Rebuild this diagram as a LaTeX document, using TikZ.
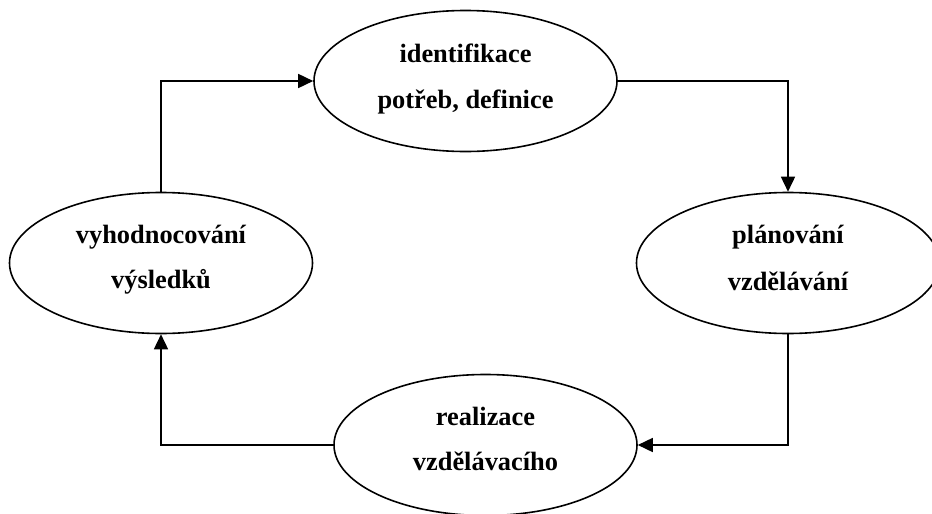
\documentclass[tikz,border=0pt]{standalone}
\usepackage{fontspec}
\setmainfont{Liberation Serif}
\usetikzlibrary{shapes.geometric,arrows.meta}
\tikzset{
  stage/.style={draw, ellipse, line width=1.6pt, inner sep=0pt,
    minimum width=303pt, minimum height=141pt},
  lbl/.style={anchor=base, inner sep=0pt,
    font=\fontsize{26.4}{30}\selectfont\bfseries},
  flow/.style={line width=1.6pt, -{Triangle[length=15pt,width=14pt]}}
}
\begin{document}
\begin{tikzpicture}[x=1pt,y=-1pt]
\useasboundingbox (0,0) rectangle (932,514);
\clip (0,0) rectangle (932,514);
\fill[white] (0,0) rectangle (932,514);

% the four stages of the cycle
\node[stage] (ident) at (465.5,81) {};
\node[lbl] (identA) at (465.5,62) {identifikace};
\node[lbl] (identB) at (465.5,108) {potřeb, definice};

\node[stage] (plan) at (788,263) {};
\node[lbl] (planA) at (788,243) {plánování};
\node[lbl] (planB) at (788,290) {vzdělávání};

\node[stage] (real) at (485.5,445) {};
\node[lbl] (realA) at (485.5,425) {realizace};
\node[lbl] (realB) at (485.5,470) {vzdělávacího};

\node[stage] (eval) at (161,263) {};
\node[lbl] (evalA) at (161,243) {vyhodnocování};
\node[lbl] (evalB) at (161,288) {výsledků};

% connectors around the cycle
\draw[flow] (ident.east) -| (plan.north);
\draw[flow] (plan.south) |- (real.east);
\draw[flow] (real.west) -| (eval.south);
\draw[flow] (eval.north) |- (ident.west);
\end{tikzpicture}
\end{document}
